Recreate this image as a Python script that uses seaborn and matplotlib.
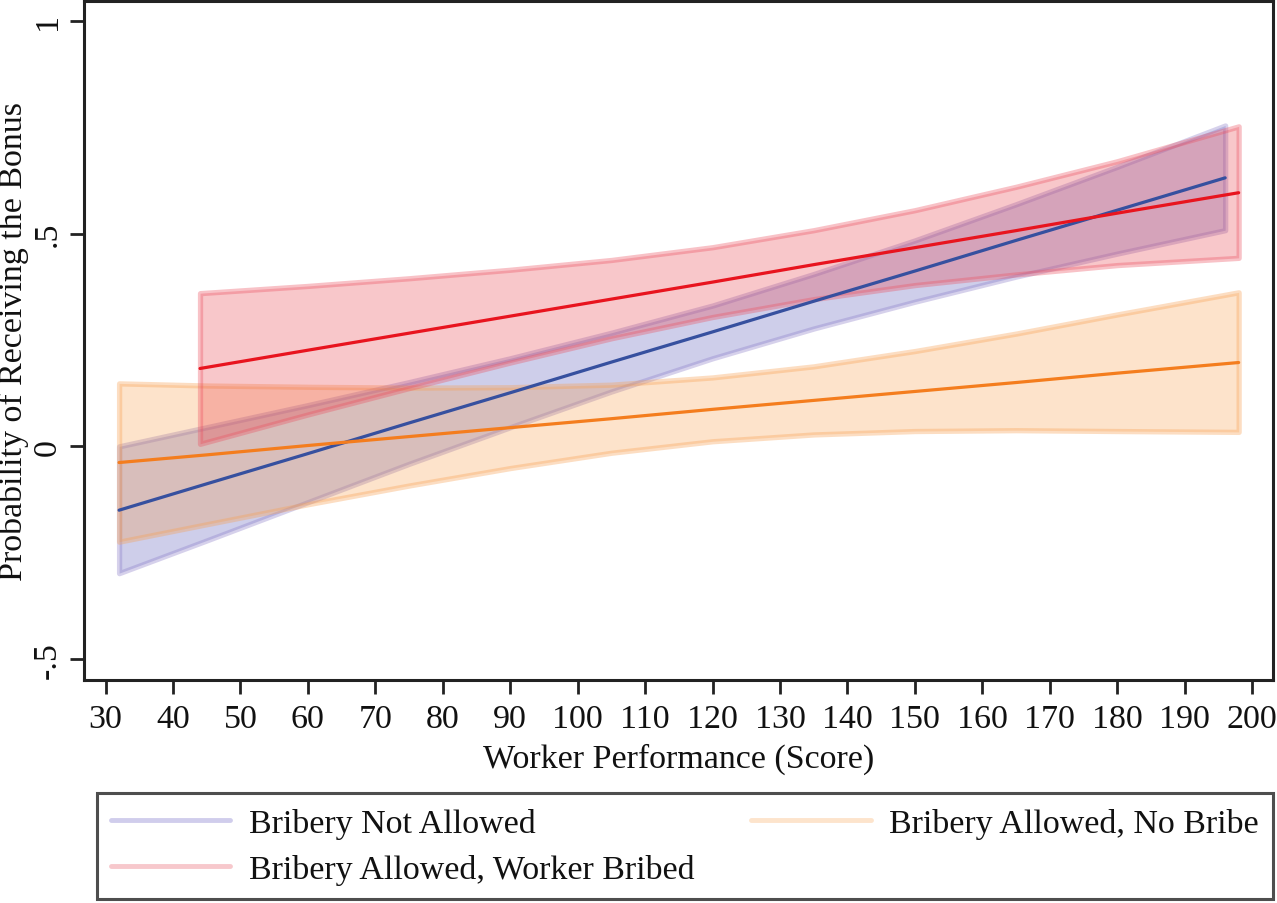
import matplotlib
matplotlib.use('Agg')
import matplotlib.pyplot as plt
import numpy as np
import pandas as pd
import seaborn as sns
from matplotlib.lines import Line2D
from matplotlib.colors import to_rgba

# Bribery Not Allowed
x_na = [32, 45, 60, 75, 90, 105, 120, 135, 150, 165, 180, 196]
y_na = [-0.150, -0.088, -0.017, 0.055, 0.126, 0.198, 0.269, 0.341, 0.412, 0.484, 0.555, 0.631]
hi_na = [0.000, 0.045, 0.097, 0.151, 0.207, 0.267, 0.331, 0.405, 0.484, 0.569, 0.657, 0.754]
lo_na = [-0.298, -0.221, -0.131, -0.041, 0.045, 0.129, 0.207, 0.277, 0.340, 0.399, 0.453, 0.508]

# Bribery Allowed, Worker Bribed
x_wb = [44, 60, 75, 90, 105, 120, 135, 150, 165, 180, 198]
y_wb = [0.183, 0.226, 0.266, 0.306, 0.346, 0.386, 0.427, 0.467, 0.507, 0.548, 0.596]
hi_wb = [0.360, 0.377, 0.395, 0.415, 0.438, 0.468, 0.508, 0.555, 0.610, 0.670, 0.752]
lo_wb = [0.006, 0.075, 0.137, 0.197, 0.254, 0.304, 0.346, 0.379, 0.404, 0.426, 0.443]

# Bribery Allowed, No Bribe
x_nb = [32, 45, 60, 75, 90, 105, 120, 135, 150, 165, 180, 198]
y_nb = [-0.038, -0.020, 0.002, 0.023, 0.044, 0.065, 0.087, 0.108, 0.129, 0.150, 0.172, 0.197]
hi_nb = [0.148, 0.143, 0.140, 0.138, 0.139, 0.145, 0.162, 0.188, 0.224, 0.265, 0.310, 0.362]
lo_nb = [-0.224, -0.183, -0.136, -0.092, -0.051, -0.015, 0.012, 0.028, 0.036, 0.038, 0.036, 0.034]

labels = ['Bribery Not Allowed', 'Bribery Allowed, No Bribe', 'Bribery Allowed, Worker Bribed']
line_colors = ['#36509f', '#f47d1e', '#e8141e']
band_colors = ['#7f7fc8', '#f89030', '#e8303c']
band_alpha = [0.38, 0.25, 0.27]
edge_colors = ['#8a7cc8', '#f8a050', '#ec5060']
legend_colors = ['#d0cdec', '#fde4cc', '#f7c8cc']

xs = [x_na, x_nb, x_wb]
ys = [y_na, y_nb, y_wb]
his = [hi_na, hi_nb, hi_wb]
los = [lo_na, lo_nb, lo_wb]

df = pd.concat([pd.DataFrame({'score': x, 'prob': y, 'group': g})
                for x, y, g in zip(xs, ys, labels)], ignore_index=True)

sns.set_style('white')
plt.rcParams['font.family'] = ['Liberation Serif', 'DejaVu Serif']
fs = 24.5

fig = plt.figure(figsize=(12.77, 9.04), dpi=100)
ax = fig.add_axes([0.0658, 0.2467, 0.9311, 0.7513])

# confidence bands
for x, lo, hi, c, a, ec in zip(xs, los, his, band_colors, band_alpha, edge_colors):
    ax.fill_between(x, lo, hi, facecolor=to_rgba(c, a),
                    edgecolor=to_rgba(ec, 0.35), linewidth=3.8,
                    joinstyle='round', zorder=2)

# predicted lines
sns.lineplot(data=df, x='score', y='prob', hue='group', hue_order=labels,
             palette=line_colors, linewidth=2.3, legend=False, ax=ax, zorder=3)

ax.set_xlim(26.8, 203.1)
ax.set_ylim(-0.549, 1.047)
ax.set_xticks(range(30, 201, 10))
ax.set_yticks([-0.5, 0, 0.5, 1])
ax.set_yticklabels(['-.5', '0', '.5', '1'], rotation=90, va='center')
ax.tick_params(axis='both', labelsize=fs, length=10, width=2, color='#222222',
               labelcolor='#111111', direction='out', left=True, bottom=True)
ax.tick_params(axis='x', pad=7)
ax.tick_params(axis='y', pad=5)
for s in ax.spines.values():
    s.set_linewidth(2.2)
    s.set_color('#222222')

ax.set_xlabel('Worker Performance (Score)', fontsize=fs, labelpad=6, color='#111111')
ax.set_ylabel('Probability of Receiving the Bonus', fontsize=fs, labelpad=3, color='#111111')

handles = [Line2D([0], [0], color=legend_colors[i], linewidth=3.5) for i in [0, 2, 1]]
leg_labels = [labels[i] for i in [0, 2, 1]]
leg = fig.legend(handles, leg_labels, ncol=2, loc='lower left',
                 bbox_to_anchor=(0.076, 0.004, 0.921, 0.119), mode='expand',
                 fontsize=fs, frameon=True, fancybox=False, handlelength=3.5,
                 handletextpad=0.55, labelspacing=0.45, borderpad=0.42,
                 borderaxespad=0, labelcolor='#111111')
leg.get_frame().set_edgecolor('#222222')
leg.get_frame().set_linewidth(2.2)

fig.savefig('out.png', dpi=100)
